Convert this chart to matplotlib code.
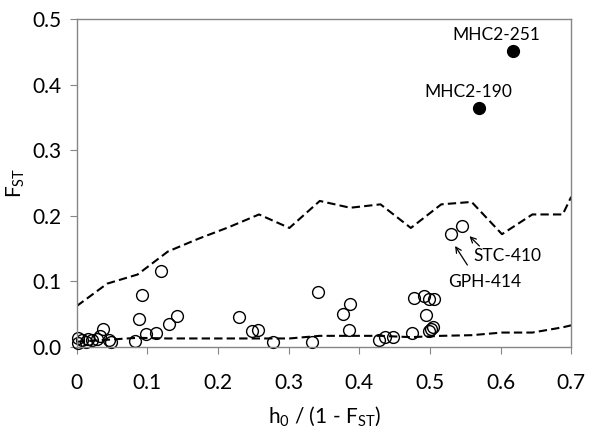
import matplotlib
matplotlib.use("Agg")
import matplotlib.pyplot as plt

# Police proche de Calibri
plt.rcParams['font.family'] = ['Lato', 'DejaVu Sans']
plt.rcParams['mathtext.fontset'] = 'custom'
plt.rcParams['mathtext.rm'] = 'Lato'
plt.rcParams['mathtext.it'] = 'Lato'

# Seuils (lignes pointillées)
grid_x = [0, 0.043, 0.086, 0.129, 0.172, 0.215, 0.258, 0.301, 0.344, 0.387,
          0.43, 0.473, 0.516, 0.559, 0.602, 0.645, 0.688, 0.7]
upper_y = [0.0625, 0.0966, 0.1105, 0.1456, 0.165, 0.1826, 0.2021, 0.1815, 0.2227, 0.2123,
           0.2175, 0.1815, 0.2175, 0.2212, 0.172, 0.2021, 0.2021, 0.229]
lower_y = [0.008, 0.011, 0.014, 0.013, 0.013, 0.013, 0.013, 0.013, 0.017, 0.017,
           0.017, 0.015, 0.017, 0.018, 0.022, 0.022, 0.030, 0.033]

# Loci neutres (cercles vides)
open_x = [0.002, 0.002, 0.008, 0.013, 0.016, 0.021, 0.028, 0.033, 0.037, 0.046, 0.049,
          0.083, 0.088, 0.092, 0.098, 0.112, 0.119, 0.131, 0.142,
          0.230, 0.248, 0.256, 0.278, 0.333, 0.341, 0.377, 0.386, 0.387,
          0.428, 0.436, 0.447, 0.474, 0.477, 0.492, 0.495, 0.498, 0.498, 0.501, 0.504, 0.506,
          0.530, 0.545]
open_y = [0.014, 0.006, 0.011, 0.008, 0.012, 0.010, 0.012, 0.016, 0.027, 0.010, 0.008,
          0.009, 0.042, 0.080, 0.020, 0.022, 0.116, 0.035, 0.047,
          0.045, 0.024, 0.026, 0.008, 0.008, 0.084, 0.050, 0.026, 0.065,
          0.011, 0.015, 0.015, 0.021, 0.074, 0.077, 0.049, 0.073, 0.024, 0.027, 0.031, 0.073,
          0.172, 0.185]

# Loci outliers (points pleins)
out_x = [0.570, 0.617]
out_y = [0.364, 0.451]
out_labels = ['MHC2-190', 'MHC2-251']

# Loci annotés avec flèche
arrow_labels = ['GPH-414', 'STC-410']
arrow_head = [(0.5356, 0.154), (0.556, 0.169)]
arrow_tail = [(0.553, 0.125), (0.570, 0.154)]
arrow_text = [(0.577, 0.0995), (0.609, 0.139)]

x_ticks = [0, 0.1, 0.2, 0.3, 0.4, 0.5, 0.6, 0.7]
x_tick_labels = ['0', '0.1', '0.2', '0.3', '0.4', '0.5', '0.6', '0.7']
y_ticks = [0, 0.1, 0.2, 0.3, 0.4, 0.5]
y_tick_labels = ['0.0', '0.1', '0.2', '0.3', '0.4', '0.5']

fig = plt.figure(figsize=(6, 4.44), dpi=100)
ax = fig.add_axes([0.128, 0.2185, 0.824, 0.7385])

ax.plot(grid_x, upper_y, color='black', lw=1.5, dashes=(4, 2))
ax.plot(grid_x, lower_y, color='black', lw=1.5, dashes=(4, 2))
ax.plot(open_x, open_y, 'o', ms=8.5, mfc='none', mec='black', mew=1.0, clip_on=False)
ax.plot(out_x, out_y, 'o', ms=8.5, color='black')

ax.text(0.554, 0.389, out_labels[0], ha='center', va='center', fontsize=12.5)
ax.text(0.594, 0.476, out_labels[1], ha='center', va='center', fontsize=12.5)

# Annotations avec flèches
for lab, head, tail, pos in zip(arrow_labels, arrow_head, arrow_tail, arrow_text):
    ax.annotate('', xy=head, xytext=tail,
                arrowprops=dict(arrowstyle='->', lw=0.9, color='black',
                                shrinkA=0, shrinkB=0))
    ax.text(pos[0], pos[1], lab, ha='center', va='center', fontsize=12.5)

ax.set_xlim(0, 0.7)
ax.set_ylim(0, 0.5)
ax.set_xticks(x_ticks)
ax.set_xticklabels(x_tick_labels)
ax.set_yticks(y_ticks)
ax.set_yticklabels(y_tick_labels)
ax.tick_params(axis='both', direction='out', length=5, color='#868686',
               labelsize=15, pad=14)
ax.tick_params(axis='y', pad=6)
for s in ax.spines.values():
    s.set_color('#868686')
    s.set_linewidth(1.0)

ax.set_xlabel(r'h$_0$ / (1 - F$_{ST}$)', fontsize=15, labelpad=8)
ax.set_ylabel(r'F$_{ST}$', fontsize=15, labelpad=4)

fig.savefig('out.png', dpi=100)
